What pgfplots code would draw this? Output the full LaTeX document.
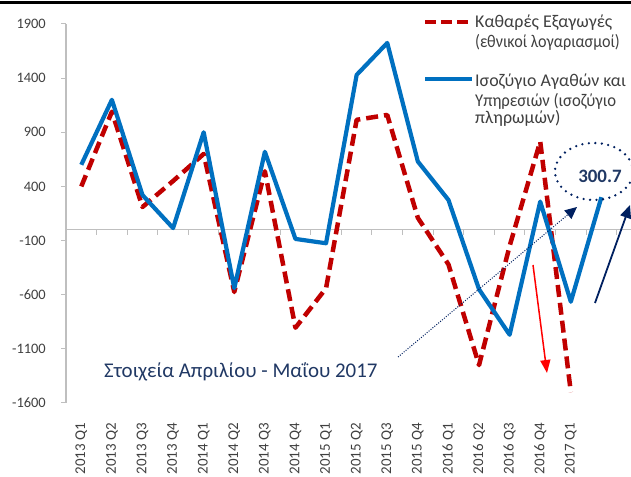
\documentclass[border=0pt]{standalone}
\usepackage{pgfplots}
\pgfplotsset{compat=1.18}
\usepackage{fontspec}
\setmainfont{Carlito}
\usetikzlibrary{arrows.meta}

\definecolor{exred}{RGB}{192,0,0}
\definecolor{bopblue}{RGB}{0,112,192}
\definecolor{navy}{RGB}{0,32,96}
\definecolor{notenavy}{RGB}{32,56,100}
\definecolor{axgray}{RGB}{191,191,191}
\definecolor{txtgray}{RGB}{64,64,64}

\begin{document}
\begin{tikzpicture}[x=1bp,y=1bp]
\useasboundingbox (0,0) rectangle (631,477);
\begin{axis}[
    at={(66bp,74bp)}, anchor=south west,
    scale only axis, width=566bp, height=379bp,
    xmin=-0.5, xmax=18, ymin=-1600, ymax=1900,
    axis y line*=left, axis x line*=bottom,
    x axis line style={draw=none},
    y axis line style={draw=axgray, line width=1.2bp},
    xtick={0,...,16},
    xticklabels={2013 Q1,2013 Q2,2013 Q3,2013 Q4,2014 Q1,2014 Q2,2014 Q3,2014 Q4,
                 2015 Q1,2015 Q2,2015 Q3,2015 Q4,2016 Q1,2016 Q2,2016 Q3,2016 Q4,2017 Q1},
    xtick style={draw=none},
    ytick={-1600,-1100,...,1900},
    ytick style={draw=axgray, line width=1bp},
    tick align=outside, major tick length=5bp,
    x tick label style={rotate=90, anchor=east, inner sep=0pt,
        font=\fontsize{15}{15}\selectfont, text=txtgray},
    xticklabel shift=15bp,
    y tick label style={font=\fontsize{14.5}{14.5}\selectfont, text=txtgray,
        anchor=east, inner sep=0pt},
    yticklabel shift=15bp,
    /pgf/number format/assume math mode=true,
    /pgf/number format/1000 sep={},
    no marks, clip=false,
]
% zero line with category separators
\draw[axgray, line width=1.5bp] (axis cs:-0.5,0) -- (axis cs:18,0);
\pgfplotsinvokeforeach{0.5,1.5,...,17.5}{
    \draw[axgray, line width=1bp] (axis cs:#1,0) -- (axis cs:#1,-45);
}
% net exports (national accounts)
\addplot[exred, line width=4.5bp, dash pattern=on 12bp off 6bp, line join=round] coordinates {
    (0,400)(1,1090)(2,210)(3,450)(4,700)(5,-575)(6,540)(7,-905)(8,-540)
    (9,1015)(10,1060)(11,110)(12,-320)(13,-1250)(14,-150)(15,815)(16,-1500)
};
% goods and services balance (balance of payments)
\addplot[bopblue, line width=4.2bp, line join=round] coordinates {
    (0,600)(1,1200)(2,320)(3,15)(4,900)(5,-540)(6,720)(7,-85)(8,-125)
    (9,1430)(10,1725)(11,630)(12,275)(13,-550)(14,-970)(15,260)(16,-665)(17,300.7)
};
\end{axis}

% top rule
\draw[black, line width=3bp] (0,474) -- (631,474);

% legend
\draw[exred, line width=4.5bp, dash pattern=on 11bp off 5bp] (425,455) -- (472,455);
\node[anchor=base west, inner sep=0pt, font=\fontsize{18}{18}\selectfont, text=txtgray] at (475,449) {Καθαρές Εξαγωγές};
\node[anchor=base west, inner sep=0pt, xscale=0.9, font=\fontsize{18}{18}\selectfont, text=txtgray] at (475,429) {(εθνικοί λογαριασμοί)};
\draw[bopblue, line width=4.2bp] (425,398) -- (472,398);
\node[anchor=base west, inner sep=0pt, font=\fontsize{18}{18}\selectfont, text=txtgray] at (475,390) {Ισοζύγιο Αγαθών και};
\node[anchor=base west, inner sep=0pt, xscale=0.93, font=\fontsize{18}{18}\selectfont, text=txtgray] at (475,370) {Υπηρεσιών (ισοζύγιο};
\node[anchor=base west, inner sep=0pt, font=\fontsize{18}{18}\selectfont, text=txtgray] at (475,353) {πληρωμών)};

% annotations
\draw[navy, line width=2.6bp, dash pattern=on 0bp off 6.5bp, line cap=round] (594,305.5) ellipse [x radius=39, y radius=28.5];
\node[font=\bfseries\fontsize{19}{19}\selectfont, text=notenavy] at (600,301) {300.7};
\draw[navy, line width=1.8bp, -{Triangle[length=13bp,width=11bp]}] (595,174) -- (630,272);
\draw[navy, line width=1bp, dash pattern=on 1bp off 1.5bp, -{Triangle[length=12bp,width=11bp]}] (398,120) -- (577,270);
\draw[red, line width=1.5bp, -{Triangle[length=13bp,width=10bp]}] (533,212) -- (547,104);
\node[anchor=base west, inner sep=0pt, font=\fontsize{21}{21}\selectfont, text=notenavy] at (104,99) {Στοιχεία Απριλίου - Μαΐου 2017};
\end{tikzpicture}
\end{document}
